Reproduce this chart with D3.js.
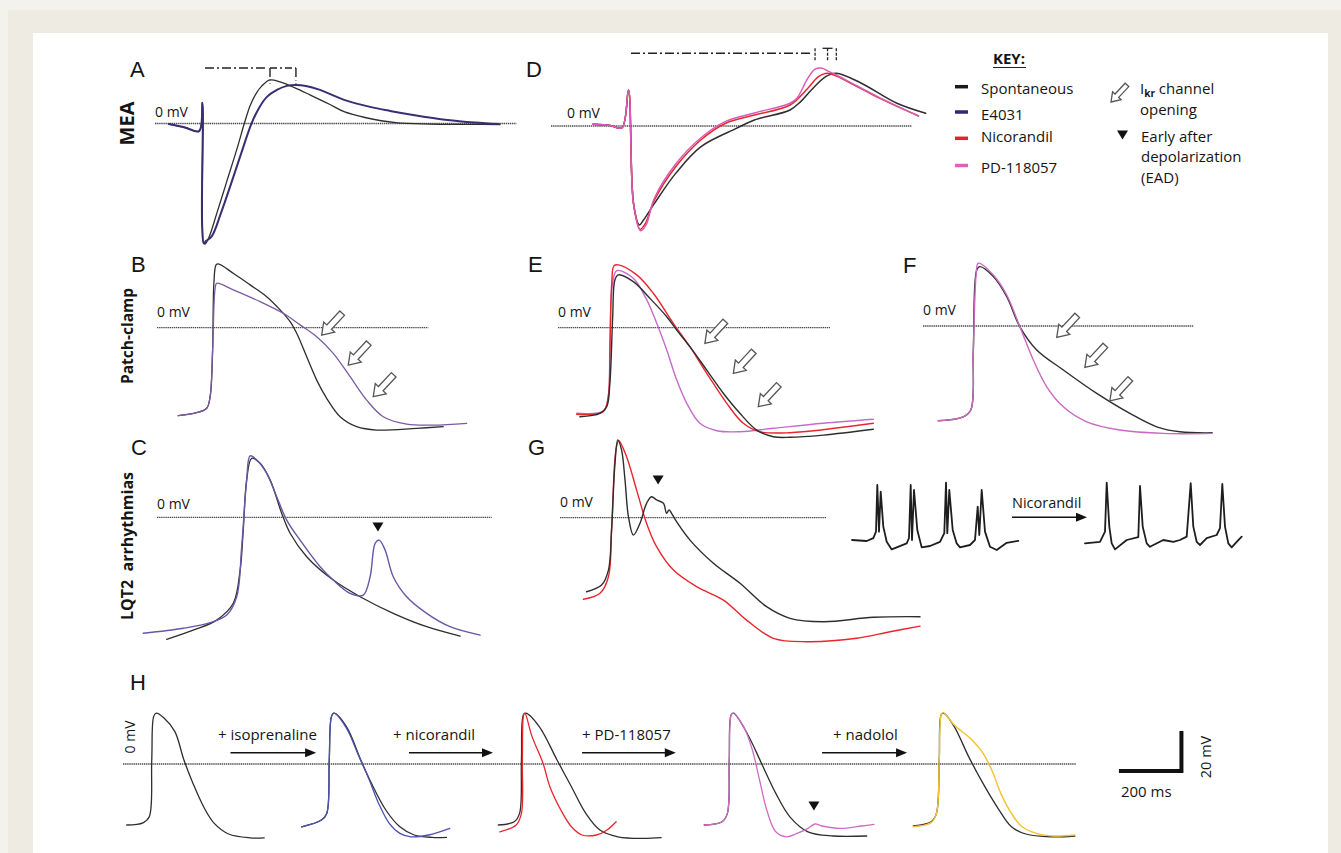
<!DOCTYPE html>
<html>
<head>
<meta charset="utf-8">
<script src="https://cdn.jsdelivr.net/npm/d3@7"></script>
<style>
  body { margin: 0; background: #f4f2ec; }
  svg { display: block; }
  text { font-family: "Open Sans", sans-serif; fill: #151515; }
</style>
</head>
<body>
<svg id="chart"></svg>
<script>
// ---- traces: [time (ms), voltage (mV)], time from the start of each panel's 0 mV line ----

// A: MEA field potentials
var aSpont = [[44,-0.3],[96,-2],[141,-3.8],[152,10.4],[156,-59.9],[160,-60.3],[173,-56.8],[198,-44.8],[230,-28.8],[262,-12.8],[286,0.1],[304,8.8],[323,14.8],[342,18.8],[368,21.8],[400,20.8],[448,17.8],[496,14.3],[560,9.5],[605,5.9],[672,3],[771,0.4],[880,-0.3],[1008,-0.4],[1104,-0.5]];
var aE4031 = [[44,-0.3],[96,-2],[141,-3.8],[152,10.4],[156,-59.9],[163,-58.8],[182,-56.3],[211,-44.8],[243,-30.3],[275,-15.3],[309,0.1],[333,7.8],[358,13.3],[390,16.8],[422,18.8],[451,19.3],[483,18.8],[528,16.8],[605,11.8],[688,8.3],[752,6.3],[826,4.3],[936,1.8],[1024,0.5],[1101,-0.3]];
var aPeakMarks = [160, 368, 451];

// D: MEA, Nicorandil and PD-118057
var dSpont = [[134,0.9],[189,0.3],[227,-0.9],[248,18],[264,-38.7],[283,-49.5],[296,-47],[331,-38.7],[399,-23.7],[479,-10.4],[593,-1.2],[651,3],[765,8],[799,12.2],[833,18],[879,24.7],[913,26.4],[993,21.4],[1107,11.4],[1199,6.4]];
var dNicorandil = [[134,0.9],[189,0.3],[227,-0.9],[248,18],[264,-38.7],[285,-51.7],[301,-49],[331,-37],[399,-20.4],[479,-7],[559,1.4],[651,5.5],[765,10.5],[822,18.9],[856,24.7],[885,26.4],[959,21.4],[1051,13.9],[1176,5]];
var dPD = [[134,0.9],[189,0.3],[227,-0.9],[248,18],[264,-38.7],[287,-52.4],[304,-49.5],[331,-36],[399,-19],[479,-6],[559,2.3],[651,6.5],[765,11.4],[787,13.9],[822,23.9],[845,28.4],[867,28.9],[890,27.2],[913,25.5],[959,21.7],[1051,14.2],[1176,5]];
var dPeakMarks = [256, 845, 885, 913];

// B: patch-clamp, E4031
var bSpont = [[68,-44],[127,-42.5],[159,-40.3],[170,-34.5],[178,-11.2],[182,22.2],[189,31.4],[196,31.9],[244,27.2],[298,21.4],[351,15.5],[394,8.9],[426,3],[447,-2.8],[479,-14.5],[511,-26.2],[543,-35.3],[586,-44.5],[639,-49.5],[703,-51.2],[831,-50.3],[916,-49.5]];
var bE4031 = [[68,-44],[127,-42.5],[159,-40.3],[170,-34.5],[178,-11.2],[186,19.7],[191,22.2],[244,18.9],[330,13],[404,7.2],[458,1.4],[511,-4.5],[564,-12.8],[618,-24.5],[671,-36.2],[724,-44.5],[799,-48.2],[884,-48.7],[991,-47.8]];
var bArrowTips = [[527,-3.7],[612,-18.7],[692,-34.5]];

// E: patch-clamp, Nicorandil and PD-118057
var eSpont = [[70,-44.5],[134,-42.8],[156,-39.5],[166,-27.8],[175,5.5],[182,23.9],[193,26.4],[241,23],[294,14.7],[348,5.5],[380,-1.2],[422,-9.5],[476,-21.2],[529,-32.8],[582,-42.8],[636,-51.2],[689,-54.5],[742,-54.8],[849,-53.7],[1009,-50.8]];
var eNicorandil = [[60,-43.3],[145,-42],[161,-34.5],[166,-11.2],[172,22.2],[179,30.9],[193,31.4],[252,26.4],[305,17.2],[369,2.2],[422,-9.5],[476,-22.8],[540,-37.8],[593,-47.8],[646,-52],[742,-52.5],[1009,-47.8]];
var ePD = [[60,-42.8],[145,-41.7],[161,-34.2],[166,-11.2],[174,21.4],[188,28.5],[241,24.7],[284,13.9],[316,2.2],[348,-11.2],[380,-26.2],[412,-37.8],[454,-47.8],[508,-51.5],[582,-52],[689,-50.3],[849,-47.8],[1009,-45.8]];
var eArrowTips = [[470,-7.8],[561,-22.8],[641,-39.5]];

// F: patch-clamp, PD-118057
var fSpont = [[49,-47.4],[129,-45.4],[153,-42],[161,-12],[172,28],[182,29.7],[225,24.7],[268,14.7],[310,-0.4],[364,-12],[449,-22],[556,-33.7],[662,-43.7],[748,-50.4],[822,-52.9],[925,-53.4]];
var fPD = [[49,-47.4],[129,-45.4],[153,-42],[161,-12],[170,25.5],[177,31.4],[225,25.5],[268,15.5],[310,-0.4],[353,-17],[396,-30.4],[449,-40.4],[524,-47.9],[630,-52],[769,-53.7],[925,-53.7]];
var fArrowTips = [[428,-5.7],[518,-20.7],[598,-37.4]];

// C: LQT2 arrhythmias, E4031
var cSpont = [[31,-61],[116,-56.4],[191,-51.4],[244,-43],[266,-26.4],[276,-6.4],[287,18.7],[303,29.5],[330,27],[362,18.7],[399,2],[426,-8],[479,-19.7],[564,-31.4],[650,-39.7],[756,-48],[863,-54.7],[970,-59.4]];
var cE4031 = [[-44,-58],[84,-55.5],[170,-52.7],[223,-48.9],[255,-39.7],[271,-14.7],[287,18.7],[298,30.7],[319,28.7],[351,22],[383,10.3],[415,-1.4],[458,-11.4],[522,-24.7],[564,-31.4],[618,-38],[660,-38.9],[682,-29.7],[698,-13],[711,-11.4],[730,-16.4],[756,-29.7],[799,-39.7],[863,-48],[938,-54.7],[1034,-58.9]];
var cEadMarks = [[707,-4.9]];

// G: LQT2 arrhythmias, Nicorandil
var gSpont = [[85,-37],[133,-33.7],[155,-26.2],[165,-6.2],[176,27.2],[185,38.9],[197,33.9],[208,18.9],[219,0.5],[235,-8.7],[256,-2.8],[277,7.2],[293,10.5],[309,8.9],[331,7.2],[341,2.2],[349,3.9],[357,2.2],[373,-2],[416,-11.2],[491,-22.8],[576,-32.8],[661,-44.5],[736,-50.3],[843,-52],[1003,-49.8],[1152,-49.5]];
var gNicorandil = [[75,-40.8],[128,-37.8],[155,-29.5],[165,-6.2],[179,33.9],[188,38.5],[213,30.5],[245,13.9],[277,-2.8],[309,-14.5],[363,-26.2],[437,-34.5],[523,-41.2],[597,-51.2],[683,-60.3],[789,-62],[949,-60.3],[1056,-57],[1152,-54.2]];
var gEadMarks = [[314,18.9]];

// G inset: spontaneous beating before / after Nicorandil
var trainBefore = [[0,0],[294,-0.5],[426,0.9],[480,4.2],[506,27.5],[540,4.2],[574,24.2],[626,6.7],[694,-0.9],[794,-4.7],[894,-3.7],[1094,-1.7],[1140,1],[1174,27.5],[1200,0],[1240,25],[1306,5],[1394,-3.7],[1560,-3],[1760,-0.9],[1846,3.4],[1880,28.7],[1906,3.4],[1946,25],[2014,5],[2094,-1.7],[2160,-3.7],[2360,-2.5],[2460,0],[2514,16.7],[2546,2.5],[2594,25],[2660,4.2],[2760,-3.4],[2894,-5],[3094,-1.4],[3326,-0.4]];
var trainAfter = [[4660,-1.7],[4960,-0.9],[5060,4.2],[5094,28.7],[5146,6.7],[5194,-1.7],[5260,-4.7],[5494,0],[5726,1.4],[5760,27],[5814,6.7],[5894,-1.7],[5960,-3.4],[6226,0],[6426,-0.9],[6560,0],[6694,1.7],[6774,28.4],[6826,6.7],[6894,-0.9],[6960,-2.5],[7094,0.9],[7294,2.5],[7360,5.9],[7406,28],[7460,6.7],[7526,-1.7],[7594,-3.7],[7694,-0.9],[7794,1.7]];
var insetArrow = [3200, 4700, 11.4];

// H: drug sequence
var h1Spont = [[12,-30.5],[64,-29.4],[84,-26.4],[92,2],[98,23.7],[106,25.4],[132,22.9],[166,16.2],[195,2],[224,-9.7],[258,-21.4],[292,-29.7],[338,-35],[406,-36.9],[452,-36.9]];
var h2Spont = [[572,-31.4],[635,-28],[652,-24.7],[660,2],[667,23.7],[675,25.4],[715,18.7],[761,2],[795,-9.7],[841,-23],[886,-31.4],[932,-35.5],[989,-36.7],[1035,-36.7]];
var h2Iso = [[572,-31.4],[635,-28],[652,-24.7],[660,2],[667,23.7],[675,25.4],[715,17.9],[755,3.7],[784,-6.4],[818,-19.7],[852,-29.7],[886,-34.7],[921,-36.4],[978,-35.5],[1046,-32.2]];
var h3Spont = [[1201,-30.5],[1252,-28.9],[1269,-24.7],[1275,2],[1281,24.5],[1289,25.4],[1332,18.7],[1389,2],[1435,-11.4],[1481,-24.7],[1526,-33],[1584,-36.4],[1664,-37.2],[1722,-36.8]];
var h3Nic = [[1206,-33.9],[1258,-30.5],[1275,-24.7],[1278,2],[1282,24.5],[1286,25.4],[1309,13.7],[1344,0.4],[1366,-11.4],[1401,-23],[1435,-31.4],[1469,-35.5],[1515,-35.5],[1549,-33],[1578,-28.9]];
var h4Spont = [[1860,-30.5],[1917,-28.9],[1934,-24.7],[1940,2],[1946,24.5],[1954,25.4],[1997,15.4],[2043,0.4],[2089,-14.7],[2134,-26.4],[2192,-33.9],[2272,-36],[2380,-36]];
var h4PD = [[1860,-30.5],[1917,-28.9],[1934,-24.7],[1940,2],[1946,24.5],[1952,25.4],[1986,18.7],[2014,7],[2037,-8],[2060,-23],[2089,-33.9],[2123,-36.4],[2157,-34.7],[2192,-32.2],[2214,-30],[2237,-31],[2294,-32.2],[2363,-31],[2403,-30.2]];
var h5Spont = [[2529,-30.9],[2586,-28.9],[2603,-24.7],[2612,2],[2618,24.5],[2626,25.4],[2660,18.7],[2706,3.7],[2752,-9.7],[2797,-21.4],[2843,-31.4],[2889,-35],[2969,-36.4],[3046,-36]];
var h5Nad = [[2529,-31.4],[2586,-29.3],[2603,-24.7],[2612,2],[2618,24.5],[2624,25.7],[2660,19.5],[2717,12],[2752,5.4],[2780,-3],[2809,-14.7],[2843,-24.7],[2877,-31.4],[2923,-34.7],[2980,-36],[3046,-35.5]];
var hEadMarks = [[2211,-21]];
var hSteps = ['+ isoprenaline', '+ nicorandil', '+ PD-118057', '+ nadolol'];
var hStepStart = [344, 915, 1469, 2237];
var hStepEnd = [618, 1184, 1769, 2509];
var hLabelStart = [304, 864, 1469, 2272];
var hScaleBarAt = [3187, -3.5];
var hScaleBarSize = [200, 20];

// key
var keyNames = ['Spontaneous', 'E4031', 'Nicorandil', 'PD-118057'];
var keyColors = ['#1a1a1a', '#2a2a72', '#e8202a', '#e060b8'];

// ---- layout (pixels) ----
var MS_PER_PX = 3.2, MV_PER_PX = 0.5;
var layout = {
  A: {x0: 155, y0: 123.5, x1: 516.5, label: [130, 77], zero: [155, 117]},
  D: {x0: 551, y0: 126, x1: 911.4, label: [526, 77], zero: [567, 117.5]},
  B: {x0: 157, y0: 327.7, x1: 428.3, label: [131, 272], zero: [157, 317]},
  E: {x0: 558, y0: 327.7, x1: 830, label: [528, 272], zero: [558, 317]},
  F: {x0: 923, y0: 326, x1: 1193.3, label: [903, 273], zero: [923, 315]},
  C: {x0: 157, y0: 517.3, x1: 491.7, label: [131, 455], zero: [157, 508.5]},
  G: {x0: 560, y0: 517.7, x1: 826, label: [528, 455], zero: [560, 507]},
  H: {x0: 123, y0: 764, x1: 1075.7, label: [130, 690]},
  inset: {x0: 852, y0: 540, msPerPx: 20}
};

function scalesFor(p) {
  var k = p.msPerPx || MS_PER_PX;
  return {
    x: d3.scaleLinear().domain([0, 1000]).range([p.x0, p.x0 + 1000 / k]),
    y: d3.scaleLinear().domain([0, 10]).range([p.y0, p.y0 - 10 / MV_PER_PX])
  };
}

var svg = d3.select('#chart').attr('width', 1341).attr('height', 853);

// frame
svg.append('rect').attr('x', 8).attr('y', 10).attr('width', 1333).attr('height', 843).attr('fill', '#eeebe2');
svg.append('rect').attr('x', 33).attr('y', 33).attr('width', 1295).attr('height', 820).attr('fill', '#ffffff');

var g = svg.append('g');

function drawTrace(s, data, color, width, curve) {
  g.append('path')
    .datum(data)
    .attr('fill', 'none')
    .attr('stroke', color)
    .attr('stroke-width', width)
    .attr('stroke-linejoin', 'round')
    .attr('stroke-linecap', 'round')
    .attr('d', d3.line()
      .x(d => s.x(d[0]))
      .y(d => s.y(d[1]))
      .curve(curve || d3.curveCatmullRom.alpha(0.5)));
}

function zeroLine(p, s) {
  g.append('line')
    .attr('x1', p.x0).attr('x2', p.x1)
    .attr('y1', s.y(0)).attr('y2', s.y(0))
    .attr('stroke', '#4a4a4a').attr('stroke-width', 1.3)
    .attr('stroke-dasharray', '1.4,0.7');
}

function hollowArrow(px, py, k) {
  k = k || 1;
  g.append('path')
    .attr('d', 'M0,0 L-11,-7.5 L-11,-3.2 L-30,-3.2 L-30,3.2 L-11,3.2 L-11,7.5 Z')
    .attr('transform', 'translate(' + px + ',' + py + ') rotate(133) scale(' + k + ')')
    .attr('fill', '#fff')
    .attr('stroke', '#555')
    .attr('stroke-width', 1.3 / k)
    .attr('stroke-linejoin', 'miter');
}

function eadMark(px, py) {
  g.append('path')
    .attr('d', 'M' + (px - 5.5) + ',' + (py - 4.5) + ' L' + (px + 5.5) + ',' + (py - 4.5) + ' L' + px + ',' + (py + 4.5) + ' Z')
    .attr('fill', '#111');
}

function solidArrow(x1, x2, y) {
  g.append('line')
    .attr('x1', x1).attr('x2', x2 - 8).attr('y1', y).attr('y2', y)
    .attr('stroke', '#111').attr('stroke-width', 1.6);
  g.append('path')
    .attr('d', 'M' + x2 + ',' + y + ' L' + (x2 - 11) + ',' + (y - 4.5) + ' L' + (x2 - 11) + ',' + (y + 4.5) + ' Z')
    .attr('fill', '#111');
}

function panelLetter(p, letter) {
  g.append('text')
    .attr('x', p.label[0]).attr('y', p.label[1])
    .style('font-family', '"Liberation Sans", Arial, sans-serif')
    .style('font-size', '22px')
    .text(letter);
}

function zeroLabel(x, y) {
  g.append('text').attr('x', x).attr('y', y).style('font-size', '14px').text('0 mV');
}

function rotatedText(cx, cy, str, size, weight) {
  g.append('text')
    .attr('transform', 'translate(' + cx + ',' + cy + ') rotate(-90)')
    .attr('text-anchor', 'middle')
    .attr('dominant-baseline', 'central')
    .style('font-size', size + 'px')
    .style('font-weight', weight || 'normal')
    .style('white-space', 'pre')
    .text(str);
}

var C = {
  spont: '#2e2e2e',
  e4031A: '#3a2d74',
  e4031B: '#7a5aa2',
  e4031C: '#6a55a6',
  red: '#e8262e',
  pinkD: '#d65cb8',
  pinkE: '#c46ccc',
  pinkF: '#c96ac0',
  blue: '#4c52b0',
  pinkH: '#d06cc6',
  yellow: '#f2c232'
};

var S = {};
Object.keys(layout).forEach(function (k) { S[k] = scalesFor(layout[k]); });

['A', 'D', 'B', 'E', 'F', 'C', 'G', 'H'].forEach(function (k) {
  zeroLine(layout[k], S[k]);
  panelLetter(layout[k], k);
  if (layout[k].zero) zeroLabel(layout[k].zero[0], layout[k].zero[1]);
});

// row titles
rotatedText(126.5, 123.5, 'MEA', 20, 'bold');
rotatedText(127, 336, 'Patch-clamp', 15.5, 'bold');
rotatedText(127, 546, 'LQT2  arrhythmias', 16, 'bold');

// ---- A ----
drawTrace(S.A, aSpont, C.spont, 1.3);
drawTrace(S.A, aE4031, C.e4031A, 2);
(function () {
  var yb = 68;
  var x0 = S.A.x(aPeakMarks[0]), xa = S.A.x(aPeakMarks[1]), xb = S.A.x(aPeakMarks[2]);
  g.append('line').attr('x1', x0).attr('x2', xa - 2).attr('y1', yb).attr('y2', yb)
    .attr('stroke', '#222').attr('stroke-width', 1.4).attr('stroke-dasharray', '9,3,2,3');
  g.append('line').attr('x1', xa).attr('x2', xb).attr('y1', yb).attr('y2', yb)
    .attr('stroke', '#222').attr('stroke-width', 1.4).attr('stroke-dasharray', '7,3,2,3');
  [xa, xb].forEach(function (x) {
    g.append('line').attr('x1', x).attr('x2', x).attr('y1', yb).attr('y2', yb + 9)
      .attr('stroke', '#222').attr('stroke-width', 1.4);
    g.append('line').attr('x1', x).attr('x2', x).attr('y1', yb + 12).attr('y2', yb + 16)
      .attr('stroke', '#555').attr('stroke-width', 1).attr('stroke-dasharray', '1,2');
  });
})();

// ---- D ----
drawTrace(S.D, dSpont, C.spont, 1.5);
drawTrace(S.D, dNicorandil, C.red, 1.5);
drawTrace(S.D, dPD, C.pinkD, 1.5);
(function () {
  var yb = 53.3;
  var xs = dPeakMarks.map(function (t) { return S.D.x(t); });
  g.append('line').attr('x1', xs[0]).attr('x2', xs[1] - 3).attr('y1', yb).attr('y2', yb)
    .attr('stroke', '#222').attr('stroke-width', 1.4).attr('stroke-dasharray', '9,3,2,3');
  [xs[1], xs[3]].forEach(function (x) {
    g.append('line').attr('x1', x).attr('x2', x).attr('y1', yb - 5).attr('y2', yb + 8)
      .attr('stroke', '#222').attr('stroke-width', 1.3).attr('stroke-dasharray', '3,1.5');
  });
  g.append('line').attr('x1', xs[2] - 5).attr('x2', xs[2] + 5).attr('y1', yb - 5).attr('y2', yb - 5)
    .attr('stroke', '#222').attr('stroke-width', 1.3);
  g.append('line').attr('x1', xs[2]).attr('x2', xs[2]).attr('y1', yb - 5).attr('y2', yb + 7)
    .attr('stroke', '#222').attr('stroke-width', 1.3).attr('stroke-dasharray', '3,1.5');
})();

// ---- B, E, F ----
drawTrace(S.B, bSpont, C.spont, 1.3);
drawTrace(S.B, bE4031, C.e4031B, 1.3);
bArrowTips.forEach(function (d) { hollowArrow(S.B.x(d[0]), S.B.y(d[1])); });

drawTrace(S.E, ePD, C.pinkE, 1.4);
drawTrace(S.E, eNicorandil, C.red, 1.4);
drawTrace(S.E, eSpont, C.spont, 1.4);
eArrowTips.forEach(function (d) { hollowArrow(S.E.x(d[0]), S.E.y(d[1])); });

drawTrace(S.F, fSpont, C.spont, 1.4);
drawTrace(S.F, fPD, C.pinkF, 1.4);
fArrowTips.forEach(function (d) { hollowArrow(S.F.x(d[0]), S.F.y(d[1])); });

// ---- C, G ----
drawTrace(S.C, cSpont, C.spont, 1.3);
drawTrace(S.C, cE4031, C.e4031C, 1.4);
cEadMarks.forEach(function (d) { eadMark(S.C.x(d[0]), S.C.y(d[1])); });

drawTrace(S.G, gNicorandil, C.red, 1.4);
drawTrace(S.G, gSpont, C.spont, 1.4);
gEadMarks.forEach(function (d) { eadMark(S.G.x(d[0]), S.G.y(d[1])); });

// inset beating trains
drawTrace(S.inset, trainBefore, '#1e1e1e', 1.8, d3.curveLinear);
drawTrace(S.inset, trainAfter, '#1e1e1e', 1.8, d3.curveLinear);
solidArrow(S.inset.x(insetArrow[0]), S.inset.x(insetArrow[1]), S.inset.y(insetArrow[2]));
g.append('text')
  .attr('x', S.inset.x(insetArrow[0])).attr('y', S.inset.y(insetArrow[2]) - 9)
  .style('font-size', '14.5px').text('Nicorandil');

// ---- H ----
drawTrace(S.H, h1Spont, C.spont, 1.3);
drawTrace(S.H, h2Spont, C.spont, 1.3);
drawTrace(S.H, h2Iso, C.blue, 1.3);
drawTrace(S.H, h3Spont, C.spont, 1.3);
drawTrace(S.H, h3Nic, C.red, 1.3);
drawTrace(S.H, h4Spont, C.spont, 1.3);
drawTrace(S.H, h4PD, C.pinkH, 1.3);
drawTrace(S.H, h5Spont, C.spont, 1.3);
drawTrace(S.H, h5Nad, C.yellow, 1.4);
hEadMarks.forEach(function (d) { eadMark(S.H.x(d[0]), S.H.y(d[1])); });
rotatedText(129, 737, '0 mV', 14);

hSteps.forEach(function (label, i) {
  solidArrow(S.H.x(hStepStart[i]), S.H.x(hStepEnd[i]), S.H.y(5.6));
  g.append('text')
    .attr('x', S.H.x(hLabelStart[i])).attr('y', S.H.y(12))
    .style('font-size', '15px').text(label);
});

// scale bar
(function () {
  var x1 = S.H.x(hScaleBarAt[0]), x2 = S.H.x(hScaleBarAt[0] + hScaleBarSize[0]);
  var y1 = S.H.y(hScaleBarAt[1]), y2 = S.H.y(hScaleBarAt[1] + hScaleBarSize[1]);
  g.append('path')
    .attr('d', 'M' + x1 + ',' + y1 + ' H' + x2 + ' V' + y2)
    .attr('fill', 'none').attr('stroke', '#111').attr('stroke-width', 4)
    .attr('stroke-linejoin', 'miter');
  g.append('text').attr('x', x1 + 2).attr('y', y1 + 26).style('font-size', '15px').text('200 ms');
  rotatedText(x2 + 24, (y1 + y2) / 2 + 6, '20 mV', 14.5);
})();

// ---- key ----
g.append('text').attr('x', 993).attr('y', 64).style('font-size', '15px').style('font-weight', 'bold').text('KEY:');
g.append('line').attr('x1', 993).attr('x2', 1026).attr('y1', 67.5).attr('y2', 67.5).attr('stroke', '#222').attr('stroke-width', 1.2);

var keyLineY = [86.7, 112, 138.3, 165.5];
var keyTextY = [94, 120, 142, 173];
keyNames.forEach(function (name, i) {
  g.append('line').attr('x1', 955).attr('x2', 968).attr('y1', keyLineY[i]).attr('y2', keyLineY[i])
    .attr('stroke', keyColors[i]).attr('stroke-width', 3.5);
  g.append('text').attr('x', 981).attr('y', keyTextY[i]).style('font-size', '15px').text(name);
});

hollowArrow(1111, 102, 0.78);
var ikr = g.append('text').attr('x', 1140).attr('y', 94).style('font-size', '15px');
ikr.append('tspan').text('I');
ikr.append('tspan').attr('dy', 3).style('font-size', '10px').style('font-weight', 'bold').text('kr');
ikr.append('tspan').attr('dy', -3).text(' channel');
g.append('text').attr('x', 1140).attr('y', 115).style('font-size', '15px').text('opening');

eadMark(1122.5, 135);
g.append('text').attr('x', 1141).attr('y', 142).style('font-size', '15px').text('Early after');
g.append('text').attr('x', 1141).attr('y', 162).style('font-size', '15px').text('depolarization');
g.append('text').attr('x', 1141).attr('y', 183).style('font-size', '15px').text('(EAD)');
</script>
</body>
</html>
